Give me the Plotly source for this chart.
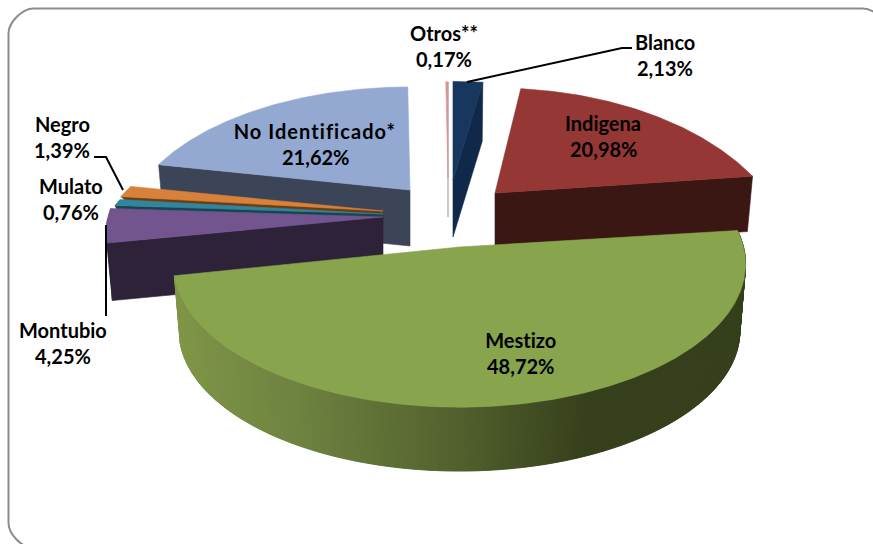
import numpy as np
import plotly.graph_objects as go

# ---- data ----
names = ["Blanco", "Indigena", "Mestizo", "Montubio", "Mulato", "Negro", "No Identificado*", "Otros**"]
values = [2.13, 20.98, 48.72, 4.25, 0.76, 1.39, 21.62, 0.17]

# ---- styling / projection per slice (pixel space) ----
W, H = 873, 544
style = {
    "Blanco":   dict(top="#17375e", side="#10294a", apex=(453, 180), rx=290, ry=128, k=.30, h=57, face="end", arc=False),
    "Indigena": dict(top="#953735", side="#3b1714", apex=(495, 193), rx=272, ry=148, k=.41, h=55, face="end", arc=False),
    "Mestizo":  dict(top="#88a44d", side="#36401c", apex=(459.5, 247), rx=284, ry=141, k=.12, h=67, face=None, arc=True),
    "Montubio": dict(top="#72558f", side="#2d2238", apex=(383, 217), rx=275, ry=128, k=.12, h=58, face="start", arc=True),
    "Mulato":   dict(top="#31859c", side="#1a4350", apex=(383, 214), rx=274, ry=130, k=.30, h=10, face="start", arc=False),
    "Negro":    dict(top="#d8813a", side="#6b3d12", apex=(383, 211), rx=273, ry=130, k=.30, h=4, face="start", arc=False),
    "No Identificado*": dict(top="#93a9d1", side="#3c4558", apex=(410, 190), rx=272, ry=134, k=.30, h=56, face="start", arc=False),
    "Otros**":  dict(top="#d99694", side="#9a9090", apex=(448, 178), rx=272, ry=125, k=.30, h=39, face="end", arc=False),
}
labels = {
    "Blanco": (665, 42), "Indigena": (603, 123), "Mestizo": (520, 340), "Montubio": (63, 330),
    "Mulato": (71, 186), "Negro": (62, 124), "No Identificado*": (315, 131), "Otros**": (444, 33),
}
leaders = [
    [(467, 82), (622, 48), (632, 48)],
    [(94, 157), (106, 157), (123, 190)],
    [(106, 225), (106, 316)],
]
draw_order = ["No Identificado*", "Otros**", "Blanco", "Indigena", "Negro", "Mulato", "Montubio", "Mestizo"]
SHRINK = 0.98
grad_stops = [(176, (128, 150, 72)), (300, (110, 131, 64)), (450, (85, 99, 47)), (590, (54, 64, 28)), (760, (54, 64, 28))]

fig = go.Figure()


def poly(xs, ys, color):
    fig.add_trace(go.Scatter(x=xs, y=ys, mode="lines", fill="toself", fillcolor=color,
                             line=dict(color=color, width=0.6), hoverinfo="skip", showlegend=False))


def rim(s, deg):
    t = np.radians(deg)
    p = 1 / (1 + s["k"] * np.cos(t))
    return s["rx"] * np.sin(t) * p, -s["ry"] * np.cos(t) * p


total = sum(values)
edges = np.cumsum([0] + values) / total * 360
spans = {n: (edges[i], edges[i + 1]) for i, n in enumerate(names)}


def grad_color(x):
    xs = [g[0] for g in grad_stops]
    c = [np.interp(x, xs, [g[1][j] for g in grad_stops]) for j in range(3)]
    return "rgb(%d,%d,%d)" % tuple(c)


for n in draw_order:
    s = style[n]
    a0, a1 = spans[n]
    ax, ay = s["apex"]
    th = np.linspace(a0, a1, max(int((a1 - a0) * 2), 6))
    dx, dy = rim(s, th)
    tx, ty = ax + dx, ay + dy
    bx, by = ax + SHRINK * dx, ay + s["h"] + SHRINK * dy
    if s["arc"]:
        if n == "Mestizo":
            for i in range(0, len(th) - 1):
                j = min(i + 2, len(th) - 1)
                poly([tx[i], tx[j], bx[j], bx[i], tx[i]], [ty[i], ty[j], by[j], by[i], ty[i]], grad_color(tx[i]))
        else:
            poly(list(tx) + list(bx[::-1]) + [tx[0]], list(ty) + list(by[::-1]) + [ty[0]], s["side"])
    if s["face"]:
        i = 0 if s["face"] == "start" else -1
        poly([ax, tx[i], bx[i], ax, ax], [ay, ty[i], by[i], ay + s["h"], ay], s["side"])
    poly([ax] + list(tx) + [ax], [ay] + list(ty) + [ay], s["top"])

for seg in leaders:
    fig.add_trace(go.Scatter(x=[p[0] for p in seg], y=[p[1] for p in seg], mode="lines",
                             line=dict(color="black", width=2), hoverinfo="skip", showlegend=False))

FONT = "Lato, 'Open Sans', sans-serif"
annotations = []
for n, v in zip(names, values):
    x, y = labels[n]
    for txt, yy in ((n, y), (f"{v:.2f}%".replace(".", ","), y + 26)):
        annotations.append(dict(x=x, y=yy, text=f"<b>{txt}</b>", showarrow=False, xanchor="center", yanchor="middle",
                                font=dict(family=FONT, size=20, color="black")))

K = 25 * 0.45
L, T, R, B = 8.5, 8.5, 888, 548
border = (f"M {L} {T+25} C {L} {T+25-K} {L+25-K} {T} {L+25} {T} L {R-25} {T} "
          f"C {R-25+K} {T} {R} {T+25-K} {R} {T+25} L {R} {B-25} "
          f"C {R} {B-25+K} {R-25+K} {B} {R-25} {B} L {L+25} {B} "
          f"C {L+25-K} {B} {L} {B-25+K} {L} {B-25} Z")
fig.update_layout(
    width=W, height=H, margin=dict(l=0, r=0, t=0, b=0), paper_bgcolor="white", plot_bgcolor="white",
    xaxis=dict(range=[0, W], visible=False, fixedrange=True),
    yaxis=dict(range=[H, 0], visible=False, fixedrange=True),
    showlegend=False, annotations=annotations,
    shapes=[dict(type="path", path=border, xref="x", yref="y", line=dict(color="#8c8c8c", width=2), layer="below")],
)
post = ("document.body.style.margin='0';document.body.style.overflow='hidden';"
        "var st=document.createElement('style');"
        "st.textContent='.annotation-text{font-variant-ligatures:none;font-feature-settings:\"liga\" 0;}"
        ".annotation[data-index=\"12\"] text{letter-spacing:1.05px;}';"
        "document.head.appendChild(st);")
fig.write_html("out.html", config={"displayModeBar": False}, post_script=post)
